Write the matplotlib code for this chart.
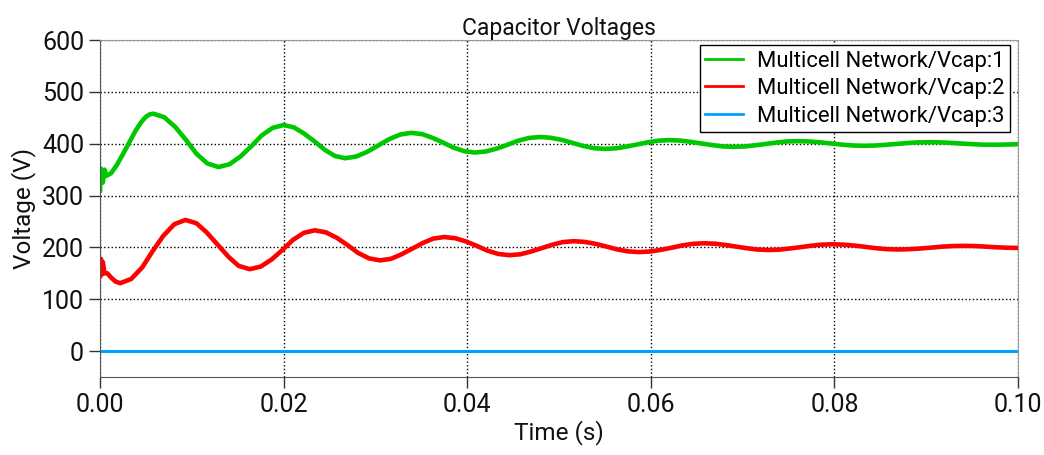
#!/usr/bin/env python3
"""
Capacitor voltages of the multicell network (values read off the scope plot).
"""
import numpy as np
from matplotlib import pyplot as plt

plt.rcParams['font.family'] = ['Roboto', 'DejaVu Sans']

###
# Vcap:1 (green)
t_v1 = [0.0, 0.0001, 0.0003, 0.0005, 0.0007, 0.0012, 0.0018, 0.0025, 0.0032, 0.0039, 0.0045, 0.0050, 0.0054, 0.0058,
        0.0070, 0.0082, 0.0094, 0.0105, 0.0117, 0.0129,
        0.0141, 0.0153, 0.0165, 0.0176, 0.0188, 0.0200,
        0.0211, 0.0222, 0.0234, 0.0245, 0.0256, 0.0267,
        0.0279, 0.0291, 0.0303, 0.0315, 0.0327, 0.0339,
        0.0351, 0.0362, 0.0374, 0.0385, 0.0397, 0.0408,
        0.0420, 0.0432, 0.0444, 0.0455, 0.0467, 0.0479,
        0.0491, 0.0503, 0.0515, 0.0526, 0.0538, 0.0550,
        0.0562, 0.0573, 0.0585, 0.0597, 0.0608, 0.0620,
        0.0632, 0.0643, 0.0655, 0.0667, 0.0678, 0.0690,
        0.0702, 0.0713, 0.0725, 0.0737, 0.0748, 0.0760,
        0.0772, 0.0784, 0.0796, 0.0808, 0.0820, 0.0832,
        0.0844, 0.0855, 0.0867, 0.0879, 0.0890, 0.0902,
        0.0914, 0.0925, 0.0937, 0.0949, 0.0960, 0.0972,
        0.0984, 0.1000]
v1 = [310, 352, 325, 350, 338, 343, 358, 380, 403, 426, 442, 452, 456.5, 458,
      451.1, 432.3, 406.5, 380.8, 361.9, 355,
      360.4, 375.3, 395.5, 415.8, 430.6, 436,
      431.7, 420, 404, 388, 376.3, 372,
      375.3, 384.3, 396.5, 408.8, 417.7, 421,
      418.5, 411.5, 402, 392.5, 385.5, 383,
      385, 390.5, 398, 405.5, 411, 413,
      411.5, 407.3, 401.5, 395.8, 391.5, 390,
      391.1, 394.3, 398.5, 402.8, 405.9, 407,
      406.1, 403.8, 400.5, 397.3, 394.9, 394,
      394.7, 396.8, 399.5, 402.3, 404.3, 405,
      404.4, 402.8, 400.5, 398.3, 396.6, 396,
      396.5, 397.8, 399.5, 401.3, 402.5, 403,
      402.7, 401.8, 400.5, 399.3, 398.3, 398,
      398.3, 399]

# Vcap:2 (red)
t_v2 = [0.0, 0.0001, 0.0002, 0.0003, 0.0005, 0.0008, 0.0012, 0.0017, 0.0022,
        0.0034, 0.0046, 0.0057, 0.0069, 0.0081, 0.0093,
        0.0105, 0.0116, 0.0128, 0.0140, 0.0151, 0.0163,
        0.0175, 0.0187, 0.0199, 0.0210, 0.0222, 0.0234,
        0.0246, 0.0258, 0.0270, 0.0281, 0.0293, 0.0305,
        0.0317, 0.0328, 0.0340, 0.0352, 0.0363, 0.0375,
        0.0387, 0.0399, 0.0411, 0.0422, 0.0434, 0.0446,
        0.0458, 0.0469, 0.0481, 0.0493, 0.0504, 0.0516,
        0.0528, 0.0540, 0.0552, 0.0563, 0.0575, 0.0587,
        0.0599, 0.0611, 0.0623, 0.0634, 0.0646, 0.0658,
        0.0670, 0.0681, 0.0693, 0.0705, 0.0716, 0.0728,
        0.0740, 0.0751, 0.0763, 0.0775, 0.0786, 0.0798,
        0.0810, 0.0822, 0.0834, 0.0845, 0.0857, 0.0869,
        0.0881, 0.0893, 0.0905, 0.0916, 0.0928, 0.0940,
        0.0952, 0.0964, 0.0976, 0.0988, 0.1000]
v2 = [145, 178, 148, 172, 150, 150, 142, 134, 131,
      139.2, 161.5, 192, 222.5, 244.8, 253,
      246.6, 229.3, 205.5, 181.8, 164.4, 158,
      163, 176.8, 195.5, 214.3, 228, 233,
      229.1, 218.5, 204, 189.5, 178.9, 175,
      178, 186.3, 197.5, 208.8, 217, 220,
      217.7, 211.3, 202.5, 193.8, 187.3, 185,
      186.8, 191.8, 198.5, 205.3, 210.2, 212,
      210.6, 206.8, 201.5, 196.3, 192.4, 191,
      192.1, 195.3, 199.5, 203.8, 206.9, 208,
      207.1, 204.8, 201.5, 198.3, 195.9, 195,
      195.7, 197.8, 200.5, 203.3, 205.3, 206,
      205.3, 203.5, 201, 198.5, 196.7, 196,
      196.5, 197.8, 199.5, 201.3, 202.5, 203,
      202.6, 201.6, 200.3, 199.4, 199]

# Vcap:3 (blue)
t_v3 = [0.0, 0.1]
v3 = [0, 0]

labels = ["Multicell Network/Vcap:1", "Multicell Network/Vcap:2", "Multicell Network/Vcap:3"]
colors = ["#00c800", "#ff0000", "#00a0ff"]

###
fig = plt.figure(figsize=(10.44, 4.55), dpi=100)
ax = fig.add_axes([0.0958, 0.1714, 0.8793, 0.7406])

ax.plot(t_v1, v1, color=colors[0], lw=3.3, label=labels[0], solid_joinstyle='round')
ax.plot(t_v2, v2, color=colors[1], lw=3.3, label=labels[1], solid_joinstyle='round')
ax.plot(t_v3, v3, color=colors[2], lw=2.2, label=labels[2])

ax.set_xlim(0, 0.1)
ax.set_ylim(-50, 600)
ax.set_xticks(np.arange(0, 0.101, 0.02))
ax.set_xticklabels(["{:.2f}".format(x) for x in np.arange(0, 0.101, 0.02)])
ax.set_yticks(range(0, 601, 100))
ax.grid(True, color='black', linestyle=':', lw=1.0)

ax.tick_params(direction='out', length=8, width=1, colors='#333333', labelcolor='#111111', labelsize=18)
for s in ['left', 'bottom']:
    ax.spines[s].set_color('#555555')
for s in ['top', 'right']:
    ax.spines[s].set_color('#999999')

ax.set_title("Capacitor Voltages", fontsize=16.5, color='#111111', pad=3)
ax.set_xlabel("Time (s)", fontsize=17.5, color='#111111', labelpad=2)
ax.set_ylabel("Voltage (V)", fontsize=17.5, color='#111111', labelpad=4)

leg = ax.legend(loc='upper right', bbox_to_anchor=(0.9913, 0.985), fontsize=15.8, frameon=True,
                fancybox=False, framealpha=1, edgecolor='black', borderpad=0.25, labelspacing=0.3,
                handlelength=1.7, handletextpad=0.65, borderaxespad=0.0)
leg.get_frame().set_linewidth(1.0)
for line in leg.get_lines():
    line.set_linewidth(2.0)

plt.savefig("out.png", format="png", dpi=100)
